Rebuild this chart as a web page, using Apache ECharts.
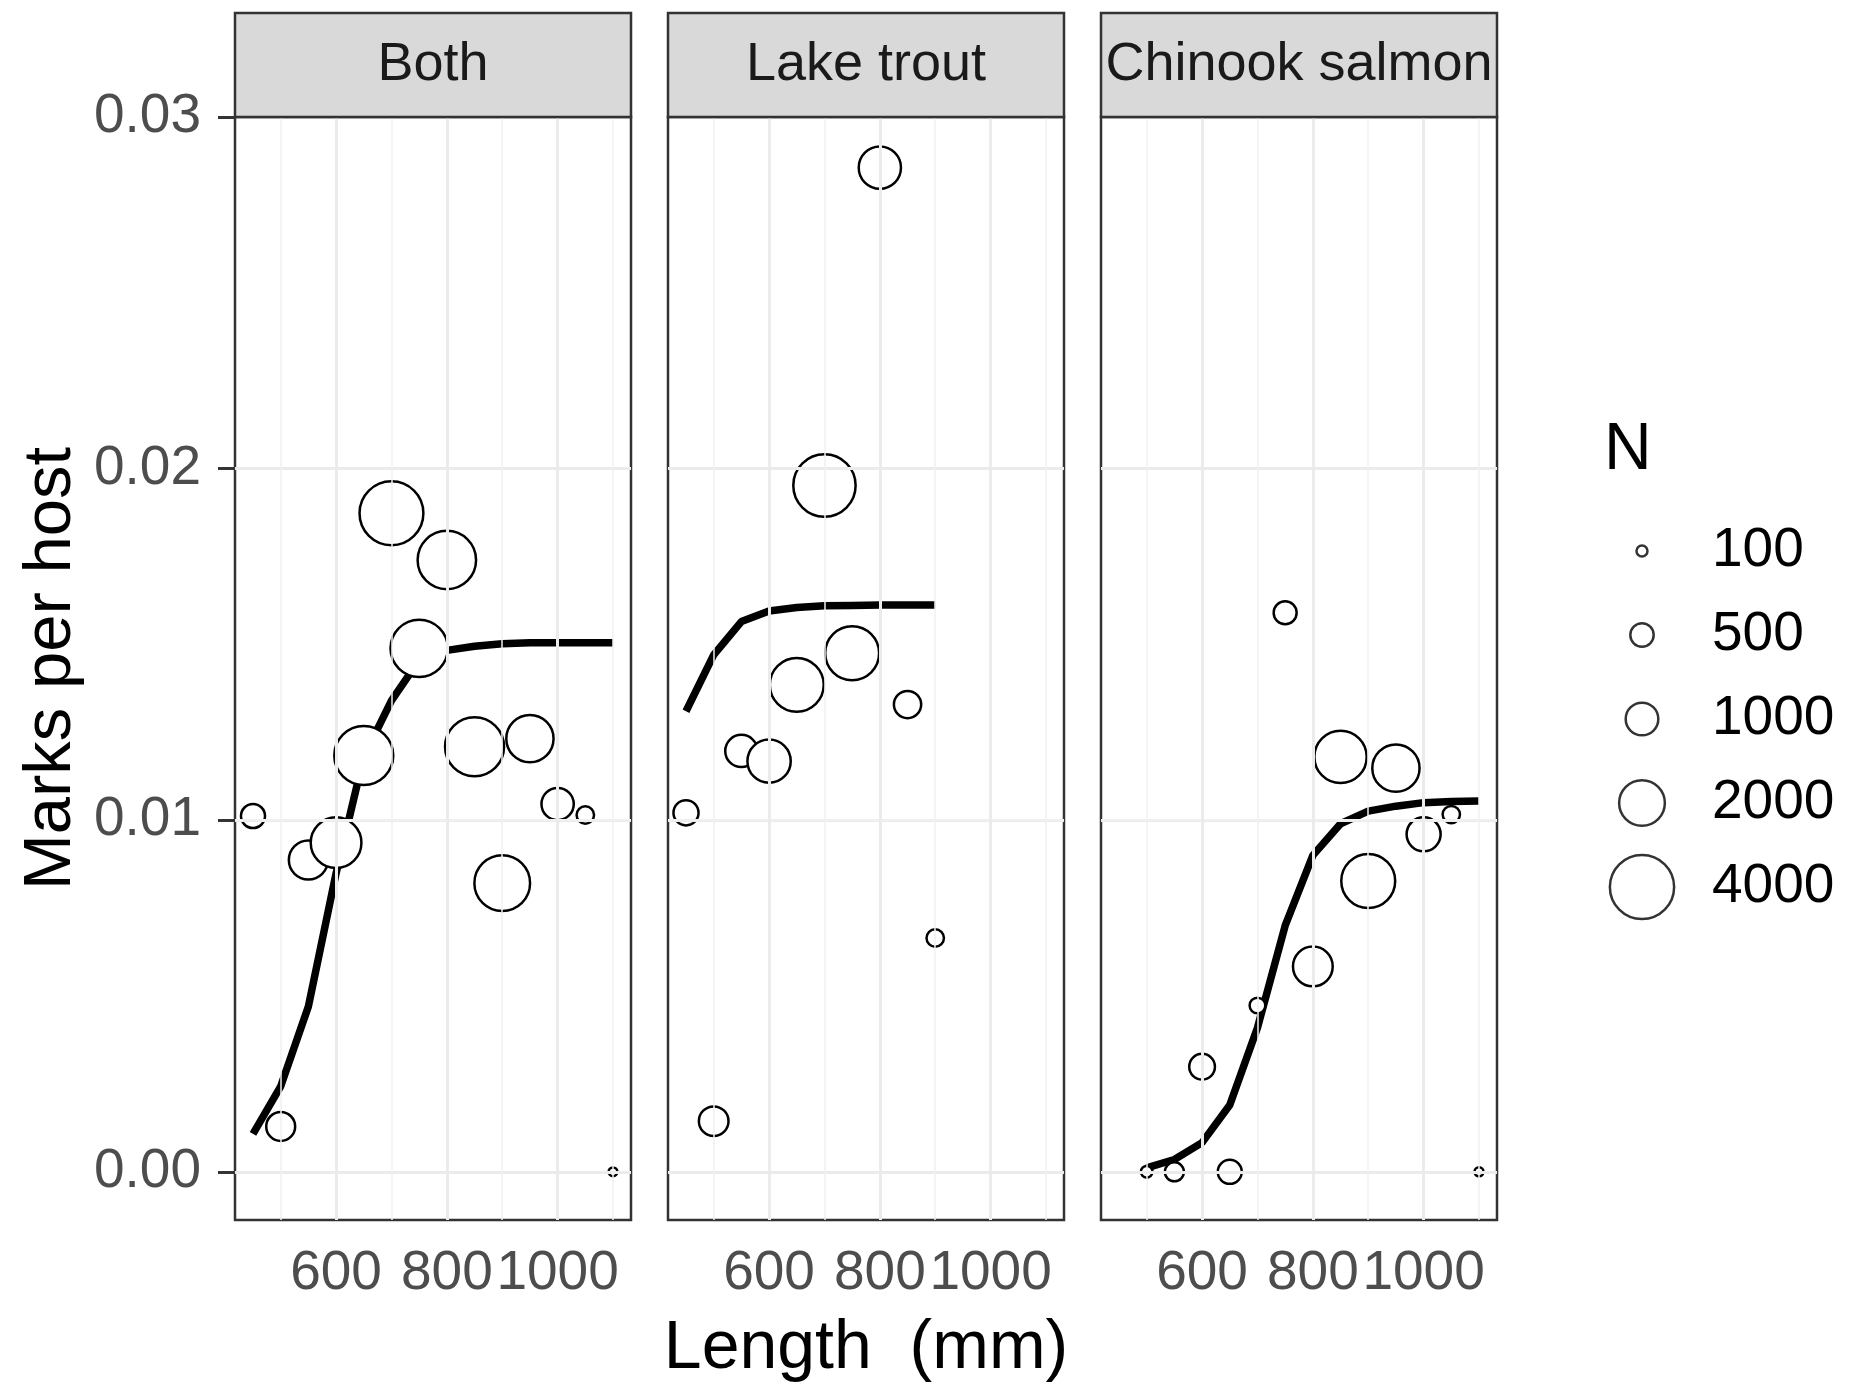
<!DOCTYPE html>
<html>
<head>
<meta charset="utf-8">
<title>Marks per host by length</title>
<script src="https://cdn.jsdelivr.net/npm/echarts@6/dist/echarts.min.js"></script>
<style>
  html, body { margin: 0; padding: 0; background: #fff; }
  #chart { width: 1854px; height: 1390px; }
</style>
</head>
<body>
<div id="chart"></div>
<script>
// facet names
var panelNames = ['Both', 'Lake trout', 'Chinook salmon'];

// Both species: length class (mm), marks per host, N hosts, fitted curve
var bothLength = [450, 500, 550, 600, 650, 700, 750, 800, 850, 900, 950, 1000, 1050, 1100];
var bothRate = [0.01012, 0.00129, 0.00887, 0.00936, 0.01184, 0.01873, 0.01489, 0.0174, 0.01209, 0.00821, 0.01232, 0.01046, 0.01015, 0];
var bothN = [530, 780, 1450, 2470, 3360, 3950, 3170, 3300, 3360, 2990, 2140, 980, 270, 60];
var bothFit = [0.00108, 0.00243, 0.0047, 0.00849, 0.0118, 0.0134, 0.01455, 0.01483, 0.01495, 0.01502, 0.01505, 0.01505, 0.01505, 0.01505];

// Lake trout
var lakeLength = [450, 500, 550, 600, 650, 700, 750, 800, 850, 900];
var lakeRate = [0.01021, 0.00144, 0.01197, 0.01168, 0.01385, 0.01952, 0.01475, 0.02856, 0.01329, 0.00665];
var lakeN = [580, 820, 980, 1790, 2800, 3760, 2800, 1700, 690, 270];
var lakeFit = [0.0131, 0.0147, 0.01565, 0.01595, 0.01605, 0.0161, 0.01611, 0.01612, 0.01612, 0.01612];

// Chinook salmon
var chinLength = [500, 550, 600, 650, 700, 750, 800, 850, 900, 950, 1000, 1050, 1100];
var chinRate = [0, 0, 0.00299, 0, 0.00473, 0.0159, 0.00584, 0.0118, 0.00827, 0.01148, 0.0096, 0.01016, 0];
var chinN = [115, 324, 610, 530, 216, 484, 1500, 2630, 2800, 2140, 1090, 266, 64];
var chinFit = [0.00011, 0.00035, 0.00083, 0.0019, 0.0041, 0.007, 0.009, 0.0099, 0.01026, 0.0104, 0.0105, 0.01053, 0.01055];

// axis breaks
var xTicks = [600, 800, 1000];
var xMinor = [500, 700, 900, 1100];
var yTicks = [0, 0.01, 0.02, 0.03];
var yMajorLines = [0, 0.01, 0.02];
var yMinorLines = [0.005, 0.015, 0.025];
var legendN = [100, 500, 1000, 2000, 4000];

var FONT = "'Liberation Sans', Arial, sans-serif";
var panelLeft = [235, 668, 1101];
var panelWidth = 396;
var panelTop = 117;
var panelHeight = 1103;
var stripTop = 13;

var panels = [
  {len: bothLength, rate: bothRate, n: bothN, fit: bothFit},
  {len: lakeLength, rate: lakeRate, n: lakeN, fit: lakeFit},
  {len: chinLength, rate: chinRate, n: chinN, fit: chinFit}
];

// point diameter grows with sqrt(N)
function sizeOf(v) {
  return Math.sqrt(v[2]) + 1;
}

function gridLines() {
  var items = [];
  yMajorLines.forEach(function (v) {
    items.push({yAxis: v, lineStyle: {color: '#ebebeb', width: 3, type: 'solid'}});
  });
  yMinorLines.forEach(function (v) {
    items.push({yAxis: v, lineStyle: {color: '#f0f0f0', width: 1.5, type: 'solid'}});
  });
  xTicks.forEach(function (v) {
    items.push({xAxis: v, lineStyle: {color: '#ebebeb', width: 3, type: 'solid'}});
  });
  xMinor.forEach(function (v) {
    items.push({xAxis: v, lineStyle: {color: '#f0f0f0', width: 1.5, type: 'solid'}});
  });
  return items;
}

var grids = [], xAxes = [], yAxes = [], series = [], graphics = [];

panels.forEach(function (p, i) {
  grids.push({
    left: panelLeft[i], top: panelTop, width: panelWidth, height: panelHeight,
    show: true, borderColor: '#333333', borderWidth: 2.5, backgroundColor: 'transparent'
  });
  xAxes.push({
    type: 'value', gridIndex: i, min: 417.5, max: 1132.5,
    axisLine: {show: false},
    splitLine: {show: false},
    axisTick: {show: true, customValues: xTicks, length: 17, lineStyle: {color: '#333333', width: 3}},
    axisLabel: {
      customValues: xTicks, margin: 26, fontSize: 55, color: '#4d4d4d', fontFamily: FONT,
      formatter: function (v) { return String(v); }
    },
    name: i === 1 ? 'Length  (mm)' : '',
    nameLocation: 'middle', nameGap: 95,
    nameTextStyle: {fontSize: 68, color: '#000', fontFamily: FONT}
  });
  yAxes.push({
    type: 'value', gridIndex: i, min: -0.00137, max: 0.03,
    axisLine: {show: false},
    splitLine: {show: false},
    axisTick: {show: i === 0, customValues: yTicks, length: 17, lineStyle: {color: '#333333', width: 3}},
    axisLabel: {
      show: i === 0, customValues: yTicks, margin: 34, fontSize: 55, color: '#4d4d4d', fontFamily: FONT,
      formatter: function (v) { return v.toFixed(2); }
    },
    name: i === 0 ? 'Marks per host' : '',
    nameLocation: 'middle', nameGap: 150,
    nameTextStyle: {fontSize: 67, color: '#000', fontFamily: FONT}
  });

  // background grid
  series.push({
    type: 'line', xAxisIndex: i, yAxisIndex: i, data: [], z: 1, silent: true,
    markLine: {silent: true, symbol: 'none', label: {show: false}, animation: false, data: gridLines()}
  });
  // fitted curve
  series.push({
    type: 'line', xAxisIndex: i, yAxisIndex: i, z: 2, showSymbol: false, smooth: false,
    lineStyle: {color: '#000', width: 7.5, cap: 'butt'},
    data: p.len.map(function (x, k) { return [x, p.fit[k]]; })
  });
  // observed points
  series.push({
    type: 'scatter', xAxisIndex: i, yAxisIndex: i, z: 3,
    symbol: 'circle', symbolSize: sizeOf,
    itemStyle: {color: '#fff', borderColor: '#000', borderWidth: 2.5, opacity: 1},
    data: p.len.map(function (x, k) { return [x, p.rate[k], p.n[k]]; })
  });

  // facet strip
  graphics.push({
    type: 'rect', z: 100,
    shape: {x: panelLeft[i], y: stripTop, width: panelWidth, height: panelTop - stripTop},
    style: {fill: '#d9d9d9', stroke: '#333333', lineWidth: 2.5}
  });
  graphics.push({
    type: 'text', z: 101,
    x: panelLeft[i] + panelWidth / 2, y: (stripTop + panelTop) / 2,
    style: {text: panelNames[i], fontSize: 54, fontFamily: FONT, fill: '#1a1a1a', align: 'center', verticalAlign: 'middle'}
  });
});

// size legend drawn as its own little scatter
grids.push({left: 1612, top: 509, width: 60, height: 420, show: false});
xAxes.push({type: 'value', gridIndex: 3, min: -1, max: 1, show: false});
yAxes.push({
  type: 'category', gridIndex: 3, inverse: true, position: 'right',
  data: legendN.map(String),
  axisLine: {show: false}, axisTick: {show: false}, splitLine: {show: false},
  axisLabel: {margin: 40, fontSize: 55, color: '#000', fontFamily: FONT, align: 'left'}
});
series.push({
  type: 'scatter', xAxisIndex: 3, yAxisIndex: 3, symbolSize: sizeOf,
  itemStyle: {color: '#fff', borderColor: '#000', borderWidth: 2.5},
  data: legendN.map(function (n, k) { return [0, k, n]; })
});

var myChart = echarts.init(document.getElementById('chart'));
var option = {
  backgroundColor: '#fff',
  animation: false,
  title: {
    text: 'N', left: 1599, top: 413,
    textStyle: {fontSize: 66, fontWeight: 'normal', color: '#000', fontFamily: FONT}
  },
  grid: grids,
  xAxis: xAxes,
  yAxis: yAxes,
  series: series,
  graphic: graphics
};
myChart.setOption(option);
</script>
</body>
</html>
